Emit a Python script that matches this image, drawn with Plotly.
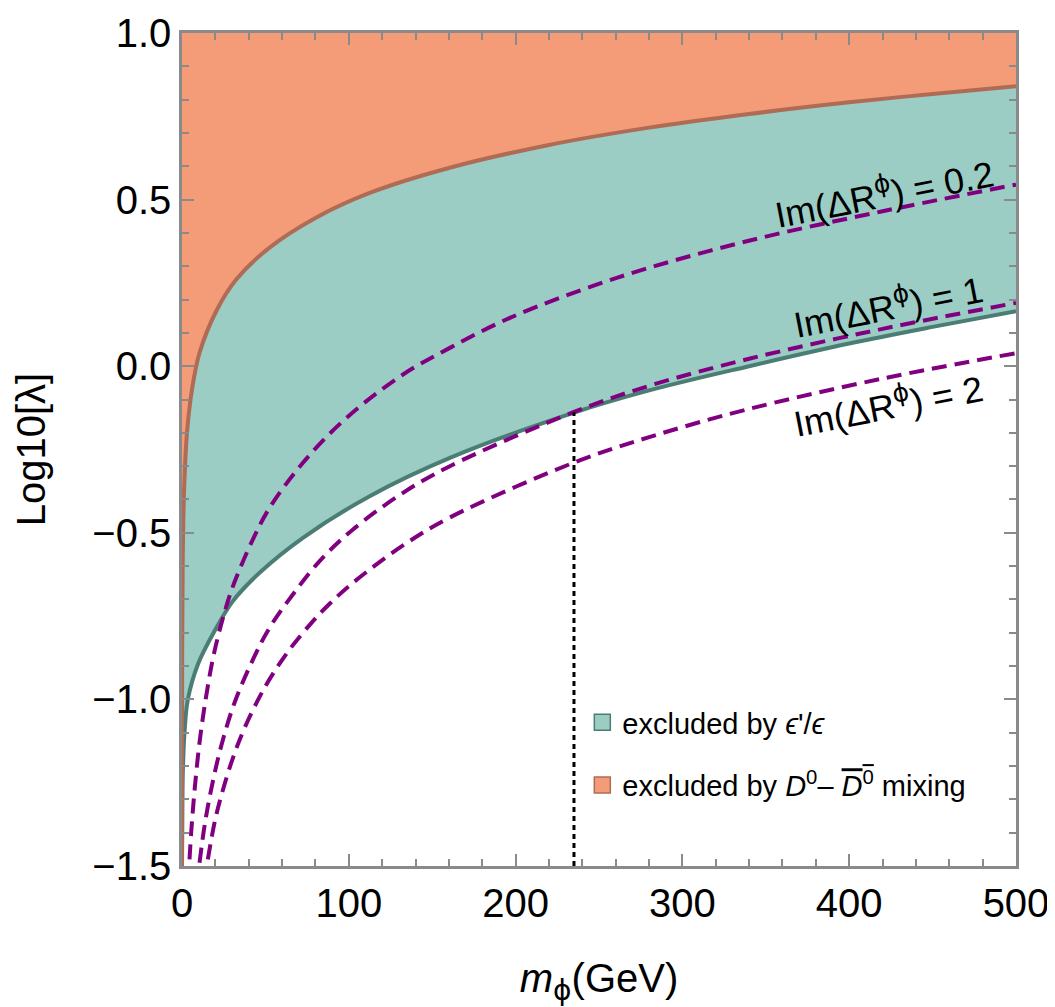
import plotly.graph_objects as go

# ---------------- data ----------------
X_RANGE = [0, 500]
Y_RANGE = [-1.5, 1.0]

# upper boundary: D0 - D0bar mixing exclusion
mix_m = [0, 0.02, 0.1, 0.4, 1.2, 3, 6, 10.5, 20.5, 32.5, 52.5, 80, 112.5, 160, 220, 280, 340, 400, 450, 500]
mix_y = [-1.5, -1.15, -0.85, -0.6, -0.38, -0.2, -0.07, 0.04, 0.165, 0.26, 0.356, 0.445, 0.52, 0.595, 0.664, 0.716, 0.757, 0.792, 0.817, 0.84]

# lower boundary: epsilon'/epsilon exclusion
eps_m = [0, 0.15, 0.5, 1.5, 3.5, 9.5, 19.5, 30.5, 46.5, 72.5, 112.5, 160.6, 234.6, 280.6, 340, 400, 450, 500]
eps_y = [-1.5, -1.4, -1.22, -1.10, -1.0, -0.895, -0.795, -0.705, -0.62, -0.515, -0.39, -0.275, -0.14, -0.072, 0.0, 0.068, 0.118, 0.165]

# Im(Delta R^phi) contours
im02_m = [4.5, 5.5, 7.5, 10.5, 14.5, 19.5, 27.5, 32.5, 42.5, 52.5, 72.5, 98.6, 132.5, 160.6, 196.6, 260.6, 338.6, 420, 500]
im02_y = [-1.48, -1.40, -1.275, -1.13, -0.99, -0.855, -0.705, -0.635, -0.52, -0.425, -0.29, -0.155, -0.025, 0.055, 0.145, 0.265, 0.375, 0.465, 0.545]

im1_m = [10.5, 13.5, 17.5, 23.5, 31.5, 43.5, 52.5, 63.5, 82.5, 102.5, 132.5, 160.6, 234.6, 280.6, 340.6, 420, 500]
im1_y = [-1.49, -1.38, -1.27, -1.14, -1.01, -0.87, -0.785, -0.705, -0.585, -0.49, -0.38, -0.30, -0.138, -0.058, 0.023, 0.112, 0.19]

im2_m = [15.5, 19.5, 23.5, 30.5, 37.5, 49.5, 63.5, 77.5, 88.5, 102.5, 132.5, 160.6, 234.6, 280.6, 338.6, 420, 500]
im2_y = [-1.48, -1.37, -1.29, -1.176, -1.086, -0.965, -0.857, -0.771, -0.713, -0.65, -0.538, -0.454, -0.29, -0.212, -0.13, -0.037, 0.039]

# dotted marker of the crossing point
dot_m = [235, 235]
dot_y = [-1.5, -0.138]

# contour labels
PHI = '<span style="font-family:DejaVu Sans">ϕ</span>'
label_texts = [f"Im(ΔR<sup>{PHI}</sup>) = 0.2", f"Im(ΔR<sup>{PHI}</sup>) = 1", f"Im(ΔR<sup>{PHI}</sup>) = 2"]
label_m = [421, 423, 423]
label_y = [0.523, 0.185, -0.112]

x_ticks = [0, 100, 200, 300, 400, 500]
y_ticks = [-1.5, -1.0, -0.5, 0.0, 0.5, 1.0]

# ---------------- styles ----------------
ORANGE_FILL = "#F39C77"
ORANGE_LINE = "#B06B55"
TEAL_FILL = "#9BCDC5"
TEAL_LINE = "#4A7D73"
PURPLE = "#800080"
FONT = "Liberation Sans, Arial, Helvetica, sans-serif"

fig = go.Figure()

# teal band between eps and mix
fig.add_trace(go.Scatter(x=eps_m, y=eps_y, mode="lines", line=dict(width=0, color=TEAL_FILL, shape="spline"),
                         showlegend=False, hoverinfo="skip"))
fig.add_trace(go.Scatter(x=mix_m, y=mix_y, mode="lines", line=dict(width=0, color=TEAL_FILL, shape="spline"),
                         fill="tonexty", fillcolor=TEAL_FILL, showlegend=False, hoverinfo="skip"))
# orange region above mix
fig.add_trace(go.Scatter(x=X_RANGE, y=[Y_RANGE[1], Y_RANGE[1]], mode="lines", line=dict(width=0, color=ORANGE_FILL),
                         showlegend=False, hoverinfo="skip"))
fig.add_trace(go.Scatter(x=mix_m, y=mix_y, mode="lines", line=dict(width=0, color=ORANGE_FILL, shape="spline"),
                         fill="tonexty", fillcolor=ORANGE_FILL, showlegend=False, hoverinfo="skip"))

# boundary lines
fig.add_trace(go.Scatter(x=eps_m, y=eps_y, mode="lines", line=dict(width=4, color=TEAL_LINE, shape="spline"),
                         showlegend=False, hoverinfo="skip"))
fig.add_trace(go.Scatter(x=mix_m, y=mix_y, mode="lines", line=dict(width=4, color=ORANGE_LINE, shape="spline"),
                         showlegend=False, hoverinfo="skip"))

# dashed contours
for mm, yy in [(im02_m, im02_y), (im1_m, im1_y), (im2_m, im2_y)]:
    fig.add_trace(go.Scatter(x=mm, y=yy, mode="lines",
                             line=dict(width=4, color=PURPLE, dash="15px,8px", shape="spline"),
                             showlegend=False, hoverinfo="skip"))

# dotted vertical
fig.add_trace(go.Scatter(x=dot_m, y=dot_y, mode="lines", line=dict(width=3, color="black", dash="5px,4px"),
                         showlegend=False, hoverinfo="skip"))

# legend entries
fig.add_trace(go.Scatter(x=[None], y=[None], mode="markers", name="excluded by <i>ϵ</i>'/<i>ϵ</i>",
                         marker=dict(symbol="square", size=16, color=TEAL_FILL, line=dict(width=1.5, color=TEAL_LINE)),
                         legendgroup="a"))
fig.add_trace(go.Scatter(x=[None], y=[None], mode="markers",
                         name="excluded by <i>D</i><sup>0</sup>– <span style=\"text-decoration:overline\"><i>D</i><sup>0</sup></span> mixing",
                         marker=dict(symbol="square", size=16, color=ORANGE_FILL, line=dict(width=1.5, color=ORANGE_LINE)),
                         legendgroup="b"))

for t, xm, ym in zip(label_texts, label_m, label_y):
    fig.add_annotation(x=xm, y=ym, xref="x", yref="y", text=t, showarrow=False, textangle=-11,
                       font=dict(family=FONT, size=36, color="black"))

axis_common = dict(
    showgrid=False, zeroline=False, showline=True, linecolor="#8a8a8a", linewidth=2.5, mirror="allticks",
    ticks="inside", ticklen=12, tickwidth=1.5, tickcolor="#8a8a8a", automargin=False,
    ticklabeloverflow="allow",
    tickfont=dict(family=FONT, size=40, color="black"),
)

# the page body adds an 8px offset, so the figure is sized for it
fig.update_layout(
    width=1047, height=999,
    margin=dict(l=174, r=39, t=25, b=141),
    paper_bgcolor="white", plot_bgcolor="white",
    font=dict(family=FONT, color="black"),
    xaxis=dict(range=X_RANGE, tickvals=x_ticks, ticktext=[str(v) for v in x_ticks],
               minor=dict(dtick=20, tick0=0, ticks="inside", ticklen=7, tickwidth=1.5, tickcolor="#8a8a8a", showgrid=False),
               title=dict(text=f"<i>m</i><sub>{PHI}</sub>(GeV)", font=dict(family=FONT, size=40), standoff=48),
               **axis_common),
    yaxis=dict(range=Y_RANGE, tickvals=y_ticks, ticktext=[f"{v:.1f}".replace("-", "−") for v in y_ticks],
               minor=dict(dtick=0.1, tick0=0, ticks="inside", ticklen=7, tickwidth=1.5, tickcolor="#8a8a8a", showgrid=False),
               title=dict(text="Log10[λ]", font=dict(family=FONT, size=40), standoff=35),
               **axis_common),
    legend=dict(x=0.48, y=0.203, xanchor="left", yanchor="top", bgcolor="rgba(0,0,0,0)",
                font=dict(family=FONT, size=29, color="black"), traceorder="grouped", tracegroupgap=22,
                itemwidth=30),
    showlegend=True,
)

fig.write_html("out.html")
